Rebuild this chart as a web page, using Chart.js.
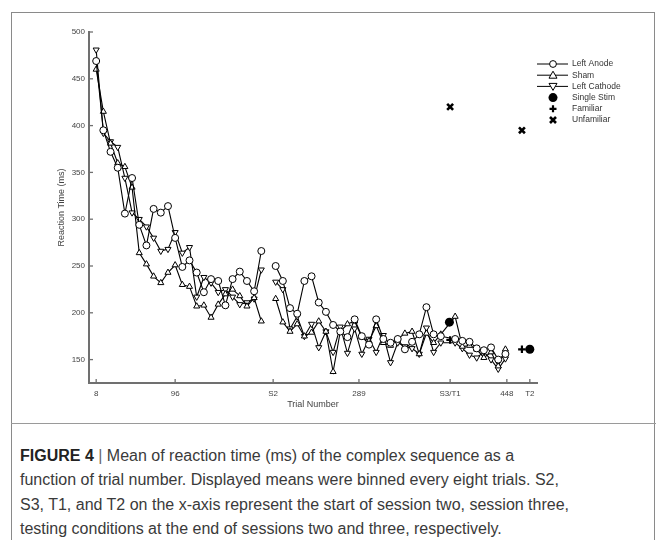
<!DOCTYPE html>
<html>
<head>
<meta charset="utf-8">
<script src="https://cdn.jsdelivr.net/npm/chart.js@4"></script>
<style>
body { margin: 0; background: #fff; }
#frame { position: absolute; left: 11px; top: 12px; width: 642px; height: 540px; border: 1.5px solid #8a8a8a; border-bottom: none; }
#rule { position: absolute; left: 11px; top: 423px; width: 645px; height: 0; border-top: 1px solid #9a9a9a; }
#wrap { position: absolute; left: 0; top: 0; width: 667px; height: 420px; }
#caption { position: absolute; left: 20px; top: 444px; font-family: "Liberation Sans", Arial, sans-serif; font-size: 16px; line-height: 24.3px; color: #3a3a3a; white-space: nowrap; }
#caption b { color: #222; }
#caption span { color: #666; }
</style>
</head>
<body>
<div id="frame"></div>
<div id="rule"></div>
<div id="wrap"><canvas id="rtChart" width="667" height="420"></canvas></div>
<div id="caption"><b>FIGURE 4</b> <span>|</span> Mean of reaction time (ms) of the complex sequence as a<br>function of trial number. Displayed means were binned every eight trials. S2,<br>S3, T1, and T2 on the x-axis represent the start of session two, session three,<br>testing conditions at the end of sessions two and three, respectively.</div>
<script>
// bin positions along the x axis (25 is the break between session 1 and 2)
const bins = [1, 2, 3, 4, 5, 6, 7, 8, 9, 10, 11, 12, 13, 14, 15, 16, 17, 18, 19, 20, 21, 22, 23, 24,
    25,
    26, 27, 28, 29, 30, 31, 32, 33, 34, 35, 36, 37, 38, 39, 40, 41, 42, 43, 44, 45, 46, 47, 48, 49,
    51, 52, 53, 54, 55, 56, 57, 58];

const leftAnode = [469, 395, 372, 355, 306, 344, 294, 272, 311, 307, 314, 280, 249, 256, 243, 222, 236, 234, 208, 236, 244, 234, 223, 266,
    null,
    250, 234, 205, 199, 234, 239, 211, 201, 187, 180, 174, 193, 175, 166, 193, 172, 168, 172, 161, 169, 177, 206, 177, 175,
    172, 170, 169, 162, 160, 163, 150, 156];

const sham = [460, 415, 381, 360, 356, 334, 264, 252, 239, 232, 243, 251, 230, 228, 207, 208, 195, 209, 220, 225, 218, 207, 216, 191,
    null,
    215, 190, 180, 188, 175, 179, 191, 180, 137, 180, 188, 191, 174, 170, 186, 168, 165, 172, 178, 180, 156, 178, 168, 177,
    196, 164, 165, 161, 152, 158, 143, 161];

const leftCathode = [481, 392, 383, 377, 344, 307, 300, 292, 280, 266, 268, 286, 264, 270, 217, 238, 232, 222, 225, 217, 209, 211, 215, 246,
    null,
    233, 225, 183, 196, 175, 188, 163, 180, 158, 185, 157, 183, 156, 172, 158, 176, 147, 168, 164, 162, 156, 184, 158, 168,
    168, 162, 155, 152, 158, 150, 140, 151];

// test conditions (T1 and T2)
const singleStimX = [50.2, 61.4];
const singleStim = [190, 161];
const familiarX = [50.3, 60.3];
const familiar = [171, 161];
const unfamiliarX = [50.3, 60.3];
const unfamiliar = [420, 395];

const xTickPos = [1, 12, 25.65, 37.6, 50.3, 58.2, 61.4];
const xTickLabels = ['8', '96', 'S2', '289', 'S3/T1', '448', 'T2'];
const yTicks = [150, 200, 250, 300, 350, 400, 450, 500];

const axisColor = '#707070';
const textColor = '#444';
const fontFamily = '"Liberation Sans", Arial, sans-serif';

function toPoints(xs, ys) {
    return xs.map((x, i) => ({ x: x, y: ys[i] }));
}

function seriesStyle(label, data, style, rotation) {
    return {
        label: label,
        data: data,
        borderColor: '#000',
        borderWidth: 1.1,
        backgroundColor: '#fff',
        pointStyle: style,
        pointRotation: rotation || 0,
        pointRadius: 3.5,
        pointBorderWidth: 1,
        pointBackgroundColor: '#fff',
        pointBorderColor: '#000',
        spanGaps: false,
        tension: 0
    };
}

// inward tick marks, like the original figure
const innerTicks = {
    id: 'innerTicks',
    afterDraw(chart) {
        const ctx = chart.ctx;
        const x = chart.scales.x, y = chart.scales.y;
        ctx.save();
        ctx.strokeStyle = axisColor;
        ctx.lineWidth = 1.3;
        xTickPos.forEach(v => {
            const px = x.getPixelForValue(v);
            ctx.beginPath();
            ctx.moveTo(px, y.bottom);
            ctx.lineTo(px, y.bottom - 4);
            ctx.stroke();
        });
        yTicks.forEach(v => {
            const py = y.getPixelForValue(v);
            ctx.beginPath();
            ctx.moveTo(x.left, py);
            ctx.lineTo(x.left + 4, py);
            ctx.stroke();
        });
        ctx.restore();
    }
};

// legend with line + marker samples
const markerLegend = {
    id: 'markerLegend',
    afterDraw(chart) {
        const ctx = chart.ctx;
        const items = [
            { text: 'Left Anode', kind: 'circle', line: true },
            { text: 'Sham', kind: 'tri', line: true },
            { text: 'Left Cathode', kind: 'triDown', line: true },
            { text: 'Single Stim', kind: 'dot' },
            { text: 'Familiar', kind: 'plus' },
            { text: 'Unfamiliar', kind: 'x' }
        ];
        const mx = 553, tx = 572;
        let yy = 64;
        ctx.save();
        ctx.font = '8.5px ' + fontFamily;
        ctx.textBaseline = 'middle';
        items.forEach(it => {
            ctx.strokeStyle = '#000';
            ctx.fillStyle = '#fff';
            ctx.lineWidth = 1;
            if (it.line) {
                ctx.beginPath();
                ctx.moveTo(537, yy);
                ctx.lineTo(568, yy);
                ctx.stroke();
            }
            ctx.beginPath();
            if (it.kind === 'circle') {
                ctx.arc(mx, yy, 3.4, 0, Math.PI * 2);
                ctx.fill(); ctx.stroke();
            } else if (it.kind === 'tri') {
                ctx.moveTo(mx, yy - 4); ctx.lineTo(mx + 4, yy + 3); ctx.lineTo(mx - 4, yy + 3); ctx.closePath();
                ctx.fill(); ctx.stroke();
            } else if (it.kind === 'triDown') {
                ctx.moveTo(mx, yy + 4); ctx.lineTo(mx + 4, yy - 3); ctx.lineTo(mx - 4, yy - 3); ctx.closePath();
                ctx.fill(); ctx.stroke();
            } else if (it.kind === 'dot') {
                ctx.fillStyle = '#000';
                ctx.arc(mx, yy, 4.5, 0, Math.PI * 2);
                ctx.fill();
            } else if (it.kind === 'plus') {
                ctx.lineWidth = 2.2;
                ctx.moveTo(mx - 3.5, yy); ctx.lineTo(mx + 3.5, yy);
                ctx.moveTo(mx, yy - 3.5); ctx.lineTo(mx, yy + 3.5);
                ctx.stroke();
            } else if (it.kind === 'x') {
                ctx.lineWidth = 2.6;
                ctx.moveTo(mx - 3, yy - 3); ctx.lineTo(mx + 3, yy + 3);
                ctx.moveTo(mx + 3, yy - 3); ctx.lineTo(mx - 3, yy + 3);
                ctx.stroke();
            }
            ctx.fillStyle = '#333';
            ctx.fillText(it.text, tx, yy);
            yy += 11.2;
        });
        ctx.restore();
    }
};

const ctx = document.getElementById('rtChart').getContext('2d');

const chart = new Chart(ctx, {
    type: 'line',
    data: {
        datasets: [
            seriesStyle('Left Anode', toPoints(bins, leftAnode), 'circle'),
            seriesStyle('Sham', toPoints(bins, sham), 'triangle'),
            seriesStyle('Left Cathode', toPoints(bins, leftCathode), 'triangle', 180),
            {
                label: 'Single Stim',
                data: toPoints(singleStimX, singleStim),
                showLine: false,
                pointStyle: 'circle',
                pointRadius: 4.5,
                pointBackgroundColor: '#000',
                pointBorderColor: '#000',
                pointBorderWidth: 0
            },
            {
                label: 'Familiar',
                data: toPoints(familiarX, familiar),
                showLine: false,
                pointStyle: 'cross',
                pointRadius: 3.8,
                pointBorderColor: '#000',
                pointBorderWidth: 2.2
            },
            {
                label: 'Unfamiliar',
                data: toPoints(unfamiliarX, unfamiliar),
                showLine: false,
                pointStyle: 'crossRot',
                pointRadius: 4.2,
                pointBorderColor: '#000',
                pointBorderWidth: 2.6
            }
        ]
    },
    options: {
        responsive: false,
        animation: false,
        devicePixelRatio: 1,
        layout: { padding: { left: 40, top: 32, right: 130, bottom: 0 } },
        plugins: {
            legend: { display: false },
            tooltip: { enabled: false }
        },
        scales: {
            x: {
                type: 'linear',
                min: 0,
                max: 62.4,
                afterBuildTicks: scale => { scale.ticks = xTickPos.map(v => ({ value: v })); },
                afterFit: scale => { scale.height = 37; },
                grid: { display: true, drawOnChartArea: false, drawTicks: false },
                border: { display: true, color: axisColor, width: 2 },
                ticks: {
                    autoSkip: false,
                    maxRotation: 0,
                    padding: 6,
                    color: textColor,
                    font: { family: fontFamily, size: 8 },
                    callback: (v, i) => xTickLabels[i]
                },
                title: {
                    display: true,
                    text: 'Trial Number',
                    color: textColor,
                    font: { family: fontFamily, size: 9 },
                    padding: { top: 0, bottom: 10 }
                }
            },
            y: {
                type: 'linear',
                min: 125,
                max: 500,
                afterBuildTicks: scale => { scale.ticks = yTicks.map(v => ({ value: v })); },
                afterFit: scale => { scale.width = 49; },
                grid: { display: true, drawOnChartArea: false, drawTicks: false },
                border: { display: true, color: axisColor, width: 2 },
                ticks: {
                    padding: 4,
                    color: textColor,
                    font: { family: fontFamily, size: 8 }
                },
                title: {
                    display: true,
                    text: 'Reaction Time (ms)',
                    color: textColor,
                    font: { family: fontFamily, size: 9 },
                    padding: { top: 16, bottom: 0 }
                }
            }
        }
    },
    plugins: [innerTicks, markerLegend]
});
</script>
</body>
</html>
